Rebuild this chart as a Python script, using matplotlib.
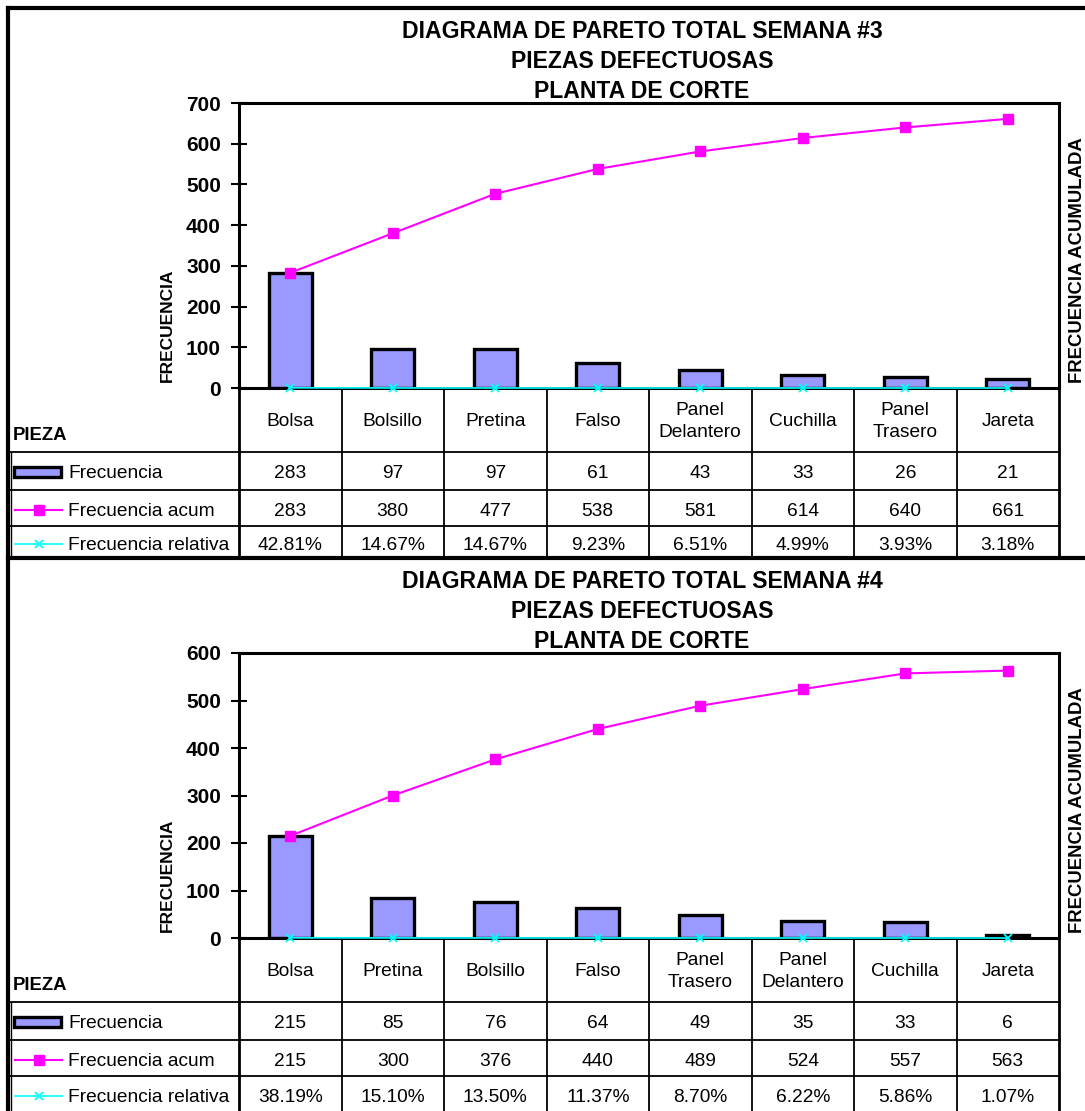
import matplotlib
matplotlib.use("Agg")
import matplotlib.pyplot as plt
from matplotlib.lines import Line2D
from matplotlib.patches import Rectangle

plt.rcParams["font.family"] = ["Liberation Sans", "DejaVu Sans"]

W, H, DPI = 1085, 1111, 100

# ---- Semana 3 ----
piezas_s3 = ["Bolsa", "Bolsillo", "Pretina", "Falso", "Panel\nDelantero",
             "Cuchilla", "Panel\nTrasero", "Jareta"]
frecuencia_s3 = [283, 97, 97, 61, 43, 33, 26, 21]
acumulada_s3 = [283, 380, 477, 538, 581, 614, 640, 661]
relativa_s3 = [42.81, 14.67, 14.67, 9.23, 6.51, 4.99, 3.93, 3.18]
yticks_s3 = [0, 100, 200, 300, 400, 500, 600, 700]

# ---- Semana 4 ----
piezas_s4 = ["Bolsa", "Pretina", "Bolsillo", "Falso", "Panel\nTrasero",
             "Panel\nDelantero", "Cuchilla", "Jareta"]
frecuencia_s4 = [215, 85, 76, 64, 49, 35, 33, 6]
acumulada_s4 = [215, 300, 376, 440, 489, 524, 557, 563]
relativa_s4 = [38.19, 15.10, 13.50, 11.37, 8.70, 6.22, 5.86, 1.07]
yticks_s4 = [0, 100, 200, 300, 400, 500, 600]

titulos_s3 = ["DIAGRAMA DE PARETO TOTAL SEMANA #3", "PIEZAS DEFECTUOSAS", "PLANTA DE CORTE"]
titulos_s4 = ["DIAGRAMA DE PARETO TOTAL SEMANA #4", "PIEZAS DEFECTUOSAS", "PLANTA DE CORTE"]
series_labels = ["Frecuencia", "Frecuencia acum", "Frecuencia relativa"]

BAR_COLOR = "#9999FF"
ACUM_COLOR = "#FF00FF"
REL_COLOR = "#00FFFF"

fig = plt.figure(figsize=(W / DPI, H / DPI), dpi=DPI)
fig.patch.set_facecolor("white")

# overlay in pixel units for frame, titles and data table
ov = fig.add_axes([0, 0, 1, 1], zorder=0)
ov.set_xlim(0, W)
ov.set_ylim(H, 0)
ov.axis("off")

PLOT_L, PLOT_R = 239, 1059
COL_W = (PLOT_R - PLOT_L) / 8
TXT = 13.8


def panel(dy, titles, piezas, frec, acum, rel, yticks, last_bottom, draw_bottom):
    top, bottom = 103 + dy, 388 + dy
    ax = fig.add_axes([PLOT_L / W, 1 - bottom / H, (PLOT_R - PLOT_L) / W, (bottom - top) / H],
                      zorder=2)
    ax.patch.set_alpha(0)
    x = list(range(len(piezas)))
    ax.bar(x, frec, width=0.42, color=BAR_COLOR, edgecolor="black", linewidth=2.4, zorder=2)
    ax.plot(x, acum, color=ACUM_COLOR, lw=1.5, marker="s", ms=7.5, mec=ACUM_COLOR,
            zorder=3, clip_on=False)
    ax.plot(x, [r / 100 for r in rel], color=REL_COLOR, lw=1.2, marker="x", ms=6,
            mew=1.3, zorder=4, clip_on=False)
    ax.set_xlim(-0.5, len(piezas) - 0.5)
    ax.set_ylim(yticks[0], yticks[-1])
    ax.set_xticks([])
    ax.set_yticks(yticks)
    ax.set_yticklabels([str(t) for t in yticks], fontweight="bold", fontsize=15)
    ax.tick_params(axis="y", direction="inout", length=11, width=1.5, pad=7.5)
    for s in ax.spines.values():
        s.set_linewidth(2.2)

    # titles
    for yy, t in zip([32, 61.5, 91], titles):
        ov.text(642, yy + dy, t, ha="center", va="center", fontsize=16.6,
                fontweight="bold")
    ov.text(167, 325 + dy, "FRECUENCIA", rotation=90, ha="center", va="center",
            fontsize=12.5, fontweight="bold")
    ov.text(1077, 260 + dy, "FRECUENCIA ACUMULADA", rotation=90, ha="center",
            va="center", fontsize=13.3, fontweight="bold")

    # data table
    rows = [388 + dy, 452 + dy, 490 + dy, 526 + dy, last_bottom]
    lw = 1.3
    for k in range(9):
        xx = PLOT_L + k * COL_W
        ov.add_line(Line2D([xx, xx], [rows[0], rows[-1]], color="black",
                           lw=2.0 if k in (0, 8) else lw))
    for yy in rows[1:4]:
        ov.add_line(Line2D([9, PLOT_R], [yy, yy], color="black", lw=lw))
    ov.add_line(Line2D([11, 11], [rows[1], rows[-1]], color="black", lw=1.0))
    ov.text(13, 435 + dy, "PIEZA", ha="left", va="center", fontsize=13.3,
            fontweight="bold")
    for i, p in enumerate(piezas):
        cx = PLOT_L + (i + 0.5) * COL_W
        ov.text(cx, (rows[0] + rows[1]) / 2 + 1.5, p, ha="center", va="center",
                fontsize=TXT, linespacing=1.4)
        vals = [str(frec[i]), str(acum[i]), f"{rel[i]:.2f}%"]
        for r, v in enumerate(vals):
            yc = (rows[r + 1] + min(rows[r + 2], rows[r + 1] + 36)) / 2
            ov.text(cx, yc + 3, v, ha="center", va="center", fontsize=TXT)
    # legend keys
    for r, lab in enumerate(series_labels):
        yc = (rows[r + 1] + min(rows[r + 2], rows[r + 1] + 36)) / 2 + 2
        ov.text(68, yc + 1, lab, ha="left", va="center", fontsize=TXT)
        if r == 0:
            ov.add_patch(Rectangle((14, yc - 5), 47, 10, facecolor=BAR_COLOR,
                                   edgecolor="black", lw=2.4))
        elif r == 1:
            ov.add_line(Line2D([15, 62], [yc, yc], color=ACUM_COLOR, lw=1.5))
            ov.add_line(Line2D([38.5], [yc], color=ACUM_COLOR, marker="s", ms=7.5, lw=0))
        else:
            ov.add_line(Line2D([15, 62], [yc, yc], color=REL_COLOR, lw=1.2))
            ov.add_line(Line2D([38.5], [yc], color=REL_COLOR, marker="x", ms=6,
                               mew=1.3, lw=0))
    if draw_bottom:
        ov.add_line(Line2D([8, W], [last_bottom, last_bottom], color="black", lw=3))
    return ax


panel(0, titulos_s3, piezas_s3, frecuencia_s3, acumulada_s3, relativa_s3,
      yticks_s3, 558, True)
panel(550, titulos_s4, piezas_s4, frecuencia_s4, acumulada_s4, relativa_s4,
      yticks_s4, H + 5, False)

# outer chart frames
ov.add_line(Line2D([8, 8], [8, H + 5], color="black", lw=3))
ov.add_line(Line2D([8, W + 5], [8, 8], color="black", lw=3))

fig.savefig("out.png", dpi=DPI)
